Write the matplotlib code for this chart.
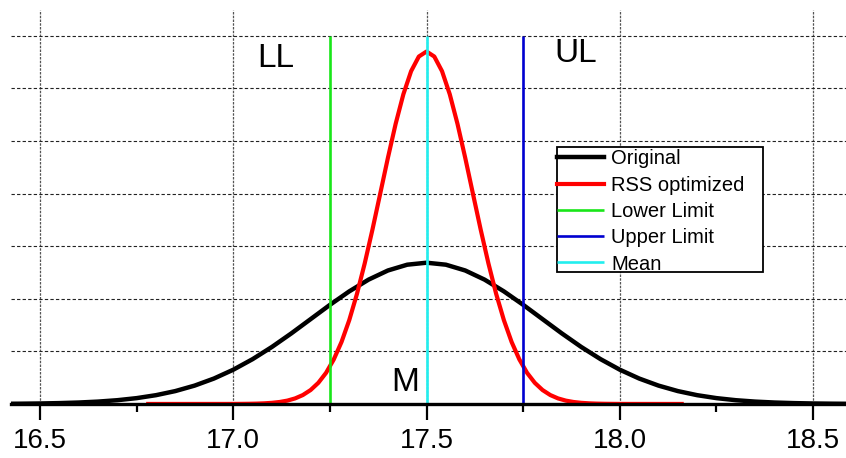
import matplotlib.pyplot as plt
from matplotlib.patches import Rectangle
from matplotlib.ticker import MultipleLocator

plt.rcParams['font.family'] = ['Liberation Sans', 'DejaVu Sans']

# curve values
original_x = [16.40, 16.45, 16.50, 16.55, 16.60, 16.65, 16.70, 16.75, 16.80, 16.85,
              16.90, 16.95, 17.00, 17.05, 17.10, 17.15, 17.20, 17.25, 17.30, 17.35,
              17.40, 17.45, 17.50, 17.55, 17.60, 17.65, 17.70, 17.75, 17.80, 17.85,
              17.90, 17.95, 18.00, 18.05, 18.10, 18.15, 18.20, 18.25, 18.30, 18.35,
              18.40, 18.45, 18.50, 18.55, 18.60]
original_y = [0.0014, 0.0026, 0.0046, 0.0081, 0.0136, 0.0224, 0.0357, 0.0554, 0.0835, 0.1224,
              0.1745, 0.2417, 0.3255, 0.4261, 0.5422, 0.6706, 0.8063, 0.9423, 1.0705, 1.1822,
              1.2690, 1.3241, 1.3430, 1.3241, 1.2690, 1.1822, 1.0705, 0.9423, 0.8063, 0.6706,
              0.5422, 0.4261, 0.3255, 0.2417, 0.1745, 0.1224, 0.0835, 0.0554, 0.0357, 0.0224,
              0.0136, 0.0081, 0.0046, 0.0026, 0.0014]

rss_x = [16.78, 16.98, 17.00, 17.02, 17.04, 17.06, 17.08, 17.10, 17.12, 17.14,
         17.16, 17.18, 17.20, 17.22, 17.24, 17.26, 17.28, 17.30, 17.32, 17.34,
         17.36, 17.38, 17.40, 17.42, 17.44, 17.46, 17.48, 17.50, 17.52, 17.54,
         17.56, 17.58, 17.60, 17.62, 17.64, 17.66, 17.68, 17.70, 17.72, 17.74,
         17.76, 17.78, 17.80, 17.82, 17.84, 17.86, 17.88, 17.90, 17.92, 17.94,
         17.96, 17.98, 18.00, 18.02, 18.16]
rss_y = [0.0, 0.0002, 0.0004, 0.0009, 0.0017, 0.0032, 0.0060, 0.0107, 0.0188, 0.0319,
         0.0528, 0.0848, 0.1323, 0.2007, 0.2958, 0.4236, 0.5894, 0.7969, 1.0470, 1.3365,
         1.6578, 1.9981, 2.3401, 2.6630, 2.9447, 3.1639, 3.3032, 3.3510, 3.3032, 3.1639,
         2.9447, 2.6630, 2.3401, 1.9981, 1.6578, 1.3365, 1.0470, 0.7969, 0.5894, 0.4236,
         0.2958, 0.2007, 0.1323, 0.0848, 0.0528, 0.0319, 0.0188, 0.0107, 0.0060, 0.0032,
         0.0017, 0.0009, 0.0004, 0.0002, 0.0]

lower_limit = 17.25
upper_limit = 17.75
mean = 17.5
limit_top = 3.5

x_ticks = [16.5, 17.0, 17.5, 18.0, 18.5]
y_grid = [0.5, 1.0, 1.5, 2.0, 2.5, 3.0, 3.5]

W, H = 846, 458
fig = plt.figure(figsize=(W / 100, H / 100), dpi=100)
ax = fig.add_axes([0.013, 0.118, 0.987, 0.86])

ax.plot(original_x, original_y, color='black', lw=3.2, label='Original', zorder=3)
ax.plot(rss_x, rss_y, color='#ff0000', lw=3.0, label='RSS optimized', zorder=4)
ax.vlines(lower_limit, 0, limit_top, color='#19e619', lw=1.9, label='Lower Limit', zorder=5)
ax.vlines(upper_limit, 0, limit_top, color='#0000d0', lw=1.9, label='Upper Limit', zorder=5)
ax.vlines(mean, 0, limit_top, color='#22eeee', lw=1.9, label='Mean', zorder=5)

ax.text(17.11, 3.28, 'LL', fontsize=24, ha='center', va='center')
ax.text(17.885, 3.33, 'UL', fontsize=24, ha='center', va='center')
ax.text(17.445, 0.2, 'M', fontsize=24, ha='center', va='center')

ax.set_xlim(16.425, 18.585)
ax.set_ylim(0, 3.745)
ax.set_xticks(x_ticks)
ax.set_xticklabels([f'{v:.1f}' for v in x_ticks])
ax.xaxis.set_minor_locator(MultipleLocator(0.25))
ax.set_yticks(y_grid)
ax.tick_params(axis='y', length=0, labelleft=False)
ax.tick_params(axis='x', which='major', length=11.5, width=1.6, labelsize=20, pad=6)
ax.tick_params(axis='x', which='minor', length=6, width=1.6)

for side in ['left', 'right', 'top']:
    ax.spines[side].set_visible(False)
ax.spines['bottom'].set_linewidth(2.4)
ax.spines['bottom'].set_zorder(6)

ax.grid(axis='y', color='#222222', lw=0.8, ls=(0, (3, 2)))
ax.grid(axis='x', color='#555555', lw=0.9, ls=(0, (2, 1)))
ax.set_axisbelow(True)

# legend box (drawn separately so its padding matches)
box = Rectangle((556.5 / W, (H - 272) / H), 206.5 / W, 125 / H, transform=fig.transFigure,
                facecolor='white', edgecolor='black', lw=1.3, zorder=6.5)
ax.add_patch(box)
leg = ax.legend(loc='upper left', bbox_to_anchor=(557 / W, (H - 149.5) / H),
                bbox_transform=fig.transFigure, borderaxespad=0, borderpad=0,
                fontsize=14.5, frameon=False, handlelength=2.35, handletextpad=0.35,
                labelspacing=0.36)
leg.set_zorder(7)

fig.savefig('out.png', dpi=100)
